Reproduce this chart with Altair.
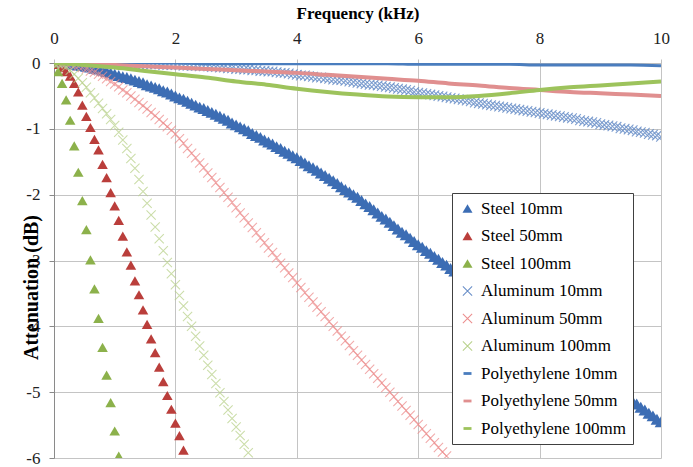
import altair as alt
import pandas as pd

# frequency grid of the marker series (kHz) and of the polyethylene curves
freq = [round(i / 15, 4) for i in range(151)]
poly_freq = [i * 0.5 for i in range(21)]

steel_10 = [0, 0, 0, -0.01, -0.01, -0.02, -0.03, -0.04, -0.05, -0.06, -0.08, -0.09, -0.11, -0.13, -0.15, -0.17,
            -0.19, -0.21, -0.22, -0.24, -0.26, -0.28, -0.30, -0.33, -0.35, -0.37, -0.39, -0.42, -0.44, -0.47, -0.50,
            -0.53, -0.55, -0.58, -0.61, -0.64, -0.67, -0.69, -0.72, -0.75, -0.78, -0.81, -0.84, -0.87, -0.91, -0.94,
            -0.97, -1.00, -1.03, -1.07, -1.10, -1.13, -1.17, -1.20, -1.23, -1.27, -1.30, -1.34, -1.37, -1.41, -1.44,
            -1.48, -1.52, -1.56, -1.59, -1.63, -1.67, -1.71, -1.75, -1.79, -1.83, -1.88, -1.92, -1.96, -2.00, -2.04,
            -2.09, -2.14, -2.18, -2.23, -2.28, -2.33, -2.37, -2.42, -2.47, -2.52, -2.57, -2.61, -2.66, -2.71, -2.76,
            -2.80, -2.85, -2.89, -2.94, -2.98, -3.03, -3.07, -3.12, -3.16, -3.21, -3.25, -3.30, -3.34, -3.39, -3.43,
            -3.48, -3.52, -3.57, -3.61, -3.66, -3.70, -3.75, -3.79, -3.84, -3.88, -3.92, -3.97, -4.01, -4.06, -4.10,
            -4.15, -4.19, -4.24, -4.28, -4.33, -4.37, -4.42, -4.46, -4.51, -4.55, -4.60, -4.64, -4.69, -4.73, -4.78,
            -4.82, -4.87, -4.91, -4.96, -5.00, -5.05, -5.09, -5.14, -5.18, -5.23, -5.27, -5.32, -5.36, -5.41, -5.45]

steel_50 = [0, -0.02, -0.07, -0.13, -0.20, -0.31, -0.44, -0.64, -0.81, -0.98, -1.16, -1.32, -1.54, -1.74,
            -1.97, -2.17, -2.39, -2.63, -2.87, -3.07, -3.31, -3.52, -3.75, -3.97, -4.19, -4.40, -4.62, -4.84,
            -5.05, -5.26, -5.47, -5.66, -5.88]

steel_100 = [0, -0.13, -0.31, -0.56, -0.87, -1.26, -1.66, -2.09, -2.53, -2.99, -3.43, -3.88, -4.32, -4.74,
             -5.16, -5.59, -5.97]

alu_10 = [0, 0, 0, 0, 0, 0, 0, 0, 0, 0, -0.01, -0.01, -0.01, -0.01, -0.01, -0.01,
          -0.01, -0.01, -0.01, -0.01, -0.02, -0.02, -0.02, -0.02, -0.02, -0.02, -0.02, -0.03, -0.03, -0.03, -0.03,
          -0.03, -0.04, -0.04, -0.04, -0.04, -0.05, -0.05, -0.05, -0.06, -0.06, -0.07, -0.07, -0.08, -0.08, -0.09,
          -0.09, -0.10, -0.10, -0.11, -0.11, -0.12, -0.12, -0.13, -0.13, -0.14, -0.15, -0.15, -0.16, -0.17, -0.18,
          -0.19, -0.19, -0.20, -0.21, -0.22, -0.22, -0.23, -0.24, -0.25, -0.26, -0.26, -0.27, -0.28, -0.29, -0.30,
          -0.31, -0.32, -0.33, -0.33, -0.34, -0.35, -0.36, -0.37, -0.38, -0.39, -0.40, -0.41, -0.42, -0.44, -0.45,
          -0.46, -0.47, -0.48, -0.49, -0.50, -0.51, -0.52, -0.53, -0.54, -0.55, -0.56, -0.57, -0.58, -0.60, -0.61,
          -0.62, -0.63, -0.64, -0.65, -0.66, -0.67, -0.68, -0.69, -0.70, -0.71, -0.72, -0.73, -0.74, -0.75, -0.76,
          -0.77, -0.78, -0.79, -0.80, -0.81, -0.82, -0.83, -0.84, -0.85, -0.87, -0.88, -0.89, -0.90, -0.91, -0.93,
          -0.94, -0.95, -0.96, -0.97, -0.99, -1.00, -1.01, -1.02, -1.04, -1.05, -1.06, -1.08, -1.09, -1.10, -1.12]

alu_50 = [0, 0, -0.01, -0.01, -0.02, -0.04, -0.05, -0.07, -0.09, -0.12, -0.14, -0.17, -0.20, -0.24, -0.28, -0.32,
          -0.36, -0.41, -0.45, -0.50, -0.55, -0.60, -0.65, -0.70, -0.75, -0.80, -0.86, -0.91, -0.97, -1.02, -1.08,
          -1.15, -1.22, -1.30, -1.37, -1.44, -1.52, -1.59, -1.67, -1.74, -1.82, -1.89, -1.97, -2.04, -2.12, -2.20,
          -2.28, -2.35, -2.43, -2.50, -2.58, -2.66, -2.73, -2.81, -2.88, -2.96, -3.04, -3.11, -3.19, -3.26, -3.34,
          -3.41, -3.49, -3.56, -3.63, -3.71, -3.78, -3.85, -3.93, -4.00, -4.07, -4.15, -4.22, -4.29, -4.37, -4.44,
          -4.51, -4.58, -4.65, -4.72, -4.79, -4.86, -4.93, -5.00, -5.07, -5.14, -5.21, -5.28, -5.35, -5.42, -5.49,
          -5.56, -5.63, -5.70, -5.77, -5.84, -5.91, -5.97]

alu_100 = [0, -0.01, -0.03, -0.06, -0.11, -0.17, -0.23, -0.30, -0.37, -0.45, -0.53, -0.61, -0.69, -0.77, -0.86,
           -0.95, -1.05, -1.17, -1.30, -1.45, -1.60, -1.77, -1.95, -2.13, -2.31, -2.49, -2.67, -2.85, -3.03, -3.20,
           -3.37, -3.53, -3.69, -3.85, -4.00, -4.15, -4.30, -4.44, -4.59, -4.73, -4.87, -5.01, -5.14, -5.27, -5.40,
           -5.53, -5.66, -5.79, -5.92]

poly_10 = [0, 0, 0, 0, 0, -0.01, -0.01, -0.01, -0.01, -0.01, -0.01, -0.01, -0.02, -0.02, -0.02, -0.02,
           -0.03, -0.03, -0.03, -0.03, -0.04]
poly_50 = [0, -0.01, -0.03, -0.05, -0.07, -0.09, -0.11, -0.13, -0.15, -0.18, -0.21, -0.24, -0.27, -0.31,
           -0.34, -0.38, -0.41, -0.44, -0.46, -0.48, -0.50]
poly_100 = [0, -0.03, -0.07, -0.12, -0.17, -0.22, -0.28, -0.33, -0.39, -0.44, -0.48, -0.51, -0.52, -0.52,
            -0.50, -0.46, -0.41, -0.37, -0.34, -0.31, -0.28]

names = ["Steel 10mm", "Steel 50mm", "Steel 100mm",
         "Aluminum 10mm", "Aluminum 50mm", "Aluminum 100mm",
         "Polyethylene 10mm", "Polyethylene 50mm", "Polyethylene 100mm"]
tick_x = [0, 2, 4, 6, 8, 10]
tick_y = [0, -1, -2, -3, -4, -5, -6]

TRI = "triangle-up"
XPATH = "M-1,-0.85L-0.85,-1L1,0.85L0.85,1Z M-1,0.85L0.85,-1L1,-0.85L-0.85,1Z"
DASH = "M-0.8,-0.28L0.8,-0.28L0.8,0.28L-0.8,0.28Z"

colors = ["#3C6DB4", "#BA3E3B", "#8CB14B",
          "#6A8FC8", "#EC8E8E", "#B9D28C",
          "#4A7DBE", "#E08F8F", "#9DC35C"]
shapes = [TRI, TRI, TRI, XPATH, XPATH, XPATH, DASH, DASH, DASH]


def frame(name, values, grid):
    return pd.DataFrame({"f": grid[:len(values)], "a": values, "s": name})


steel10_df = frame(names[0], steel_10, freq)
tri_df = pd.concat([frame(names[1], steel_50, freq),
                    frame(names[2], steel_100, freq)], ignore_index=True)
alu10_df = frame(names[3], alu_10, freq)
x_df = pd.concat([frame(names[4], alu_50, freq),
                  frame(names[5], alu_100, freq)], ignore_index=True)

FONT = "'Liberation Serif', 'Times New Roman', 'DejaVu Serif', serif"

x_enc = alt.X("f:Q",
              scale=alt.Scale(domain=[0, 10], nice=False, zero=False),
              axis=alt.Axis(orient="top", values=tick_x, title="Frequency (kHz)",
                            labelExpr="'' + datum.value",
                            labelFont=FONT, labelFontSize=17, labelColor="#222",
                            titleFont=FONT, titleFontSize=17, titleFontWeight="bold", titleColor="black",
                            titlePadding=7, labelPadding=12, tickSize=4, tickColor="#BFBFBF",
                            domainColor="#BFBFBF", gridColor="#C4C4C4", labelFlush=False))
y_enc = alt.Y("a:Q",
              scale=alt.Scale(domain=[-6, 0], nice=False, zero=False),
              axis=alt.Axis(values=tick_y, title="Attenuation (dB)",
                            labelExpr="'' + datum.value",
                            labelFont=FONT, labelFontSize=17, labelColor="#222",
                            titleFont=FONT, titleFontSize=20, titleFontWeight="bold", titleColor="black",
                            titleAngle=270, titleAlign="center", titleBaseline="middle",
                            titleX=-23, titleY=224,
                            labelPadding=9, tickSize=5, tickColor="#8A8A8A",
                            domainColor="#8A8A8A", gridColor="#C4C4C4"))

legend = alt.Legend(orient="none", legendX=398, legendY=130, padding=7,
                    strokeColor="#404040", fillColor="white",
                    labelFont=FONT, labelFontSize=17, labelColor="black",
                    symbolSize=100, symbolStrokeWidth=0, symbolOpacity=1,
                    rowPadding=9.5, labelOffset=5, labelLimit=400)

color_enc = alt.Color("s:N", scale=alt.Scale(domain=names, range=colors), legend=legend, title=None)
shape_enc = alt.Shape("s:N", scale=alt.Scale(domain=names, range=shapes), legend=legend, title=None)

steel10_layer = alt.Chart(steel10_df).mark_point(filled=True, size=160, opacity=1, clip=True).encode(
    x=x_enc, y=y_enc, color=color_enc, shape=shape_enc)

tri_layer = alt.Chart(tri_df).mark_point(filled=True, size=112, opacity=1, clip=True).encode(
    x=x_enc, y=y_enc, color=color_enc, shape=shape_enc)

alu10_layer = alt.Chart(alu10_df).mark_point(filled=True, size=110, opacity=0.85, clip=True).encode(
    x=x_enc, y=y_enc, color=color_enc, shape=shape_enc)

x_layer = alt.Chart(x_df).mark_point(filled=True, size=100, opacity=0.75, clip=True).encode(
    x=x_enc, y=y_enc, color=color_enc, shape=shape_enc)

line_layers = []
for nm, vals, col, w in [(names[6], poly_10, colors[6], 3),
                         (names[7], poly_50, colors[7], 4),
                         (names[8], poly_100, colors[8], 4)]:
    line_layers.append(
        alt.Chart(frame(nm, vals, poly_freq)).mark_line(color=col, strokeWidth=w, interpolate="monotone", clip=True)
        .encode(x=alt.X("f:Q"), y=alt.Y("a:Q"))
    )

chart = alt.layer(steel10_layer, tri_layer, alu10_layer, x_layer, *line_layers).properties(
    width=607, height=395,
    padding={"left": 54, "top": 63, "right": 32, "bottom": 9},
    autosize=alt.AutoSizeParams(type="none"),
    background="white",
).configure_view(stroke=None)

chart.save("out.html", embed_options={"renderer": "svg", "actions": False})
